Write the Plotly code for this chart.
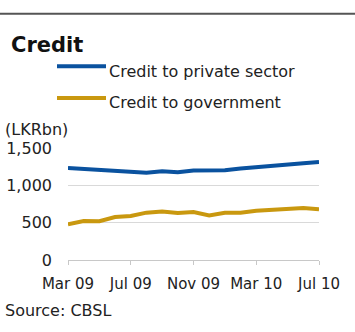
import plotly.graph_objects as go

# Monthly credit outstanding, LKR bn
months = ["Mar 09", "Apr 09", "May 09", "Jun 09", "Jul 09", "Aug 09", "Sep 09",
          "Oct 09", "Nov 09", "Dec 09", "Jan 10", "Feb 10", "Mar 10", "Apr 10",
          "May 10", "Jun 10", "Jul 10"]
private_sector = [1232, 1218, 1214, 1201, 1188, 1170, 1188, 1174, 1197, 1205,
                  1201, 1224, 1245, 1259, 1277, 1295, 1312]
government = [477, 521, 520, 575, 589, 634, 651, 629, 642, 598, 634, 634,
              661, 669, 688, 696, 678]
series_names = ["Credit to private sector", "Credit to government"]
series_colors = ["#0a529f", "#c9980f"]
tick_months = ["Mar 09", "Jul 09", "Nov 09", "Mar 10", "Jul 10"]
y_ticks = [0, 500, 1000, 1500]

FONT = "DejaVu Sans"
W, H = 355, 332
L, R, T, B = 68, 36, 147.5, 71.5

fig = go.Figure()
for name, vals, col in zip(series_names, [private_sector, government], series_colors):
    fig.add_trace(go.Scatter(x=months, y=vals, mode="lines", name=name,
                             line=dict(color=col, width=4), showlegend=False))

def px_x(x):
    return x / W

def px_y(y):
    return 1 - y / H

annotations = [
    dict(text="<b>Credit</b>", x=px_x(9), y=px_y(44), font=dict(size=21, color="#111")),
    dict(text="(LKRbn)", x=px_x(3), y=px_y(129), font=dict(size=16, color="#222")),
    dict(text="Source: CBSL", x=px_x(3), y=px_y(311), font=dict(size=16, color="#222")),
]
shapes = [dict(type="line", xref="paper", yref="paper", x0=0, x1=1,
               y0=px_y(12), y1=px_y(12), line=dict(color="#555", width=2))]

for i, (name, col) in enumerate(zip(series_names, series_colors)):
    yy = 65 + i * 32
    shapes.append(dict(type="line", xref="paper", yref="paper",
                       x0=px_x(57), x1=px_x(106), y0=px_y(yy), y1=px_y(yy),
                       line=dict(color=col, width=4)))
    annotations.append(dict(text=name, x=px_x(107), y=px_y(yy + 5),
                            font=dict(size=16, color="#222")))

for a in annotations:
    a.update(xref="paper", yref="paper", xanchor="left", yanchor="middle",
             showarrow=False)

# convert page pixel positions into plot-area paper coordinates
for a in annotations:
    a["x"] = (a["x"] * W - L) / (W - L - R)
    a["y"] = (a["y"] * H - B) / (H - T - B)
for s in shapes:
    s["x0"] = (s["x0"] * W - L) / (W - L - R)
    s["x1"] = (s["x1"] * W - L) / (W - L - R)
    s["y0"] = (s["y0"] * H - B) / (H - T - B)
    s["y1"] = (s["y1"] * H - B) / (H - T - B)

fig.update_layout(
    width=W, height=H,
    margin=dict(l=L, r=R, t=T, b=B, pad=0, autoexpand=False),
    paper_bgcolor="white", plot_bgcolor="white",
    font=dict(family=FONT, size=16, color="#222"),
    annotations=annotations, shapes=shapes,
    xaxis=dict(type="category", range=[0, len(months) - 1],
               tickvals=tick_months, ticktext=tick_months, automargin=False,
               showgrid=False, showline=True, linecolor="#c8c8c8", linewidth=1,
               ticks="outside", ticklen=4, tickcolor="#c8c8c8",
               ticklabelstandoff=6,
               tickfont=dict(size=15, color="#222"), zeroline=False),
    yaxis=dict(range=[0, 1500], tickvals=y_ticks, tickformat=",",
               automargin=False,
               showgrid=True, gridcolor="#d9d9d9", gridwidth=1,
               zeroline=False, showline=False, ticks="",
               ticklabelstandoff=15,
               tickfont=dict(size=16, color="#222")),
)

fig.write_html("out.html")
